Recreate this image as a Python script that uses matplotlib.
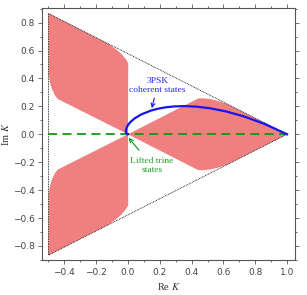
import matplotlib
matplotlib.use("Agg")
import matplotlib.pyplot as plt
import matplotlib.transforms as mtransforms
from matplotlib.ticker import MultipleLocator

# right lobe of the allowed region (upper half);
# the other two lobes are the same shape turned by +-120 degrees
lobe_x = [0.0, 0.44, 0.47, 0.52, 0.57, 0.62, 1.0]
lobe_y = [0.0, 0.256, 0.258, 0.252, 0.238, 0.218, 0.0]

# triangle of all Gram-matrix values
tri_x = [1.0, -0.5, -0.5, 1.0]
tri_y = [0.0, 0.866, -0.866, 0.0]

# lifted trine states: the real segment
trine_x = [-0.5, 1.0]
trine_y = [0.0, 0.0]

# 3PSK coherent states curve
psk_x = [1.0, 0.8575, 0.7297, 0.6162, 0.5162, 0.4288, 0.3529, 0.2876,
         0.2318, 0.1844, 0.1446, 0.0838, 0.0429, 0.0167, 0.0008, -0.0080,
         -0.0130, -0.0127, -0.0095, -0.0052, -0.002, 0.0]
psk_y = [0.0, 0.0745, 0.1277, 0.1638, 0.1863, 0.1982, 0.2019, 0.1994,
         0.1923, 0.1822, 0.1700, 0.1425, 0.1147, 0.0892, 0.0672, 0.0491,
         0.0290, 0.0157, 0.0057, 0.0006, -0.0008, 0.0]

plt.rcParams["mathtext.fontset"] = "stix"
serif = "Liberation Serif"
grey = "#555555"

fig = plt.figure(figsize=(3.07, 2.95), dpi=100)
ax = fig.add_axes([0.137, 0.119, 0.824, 0.854])

# closed outline of one lobe: upper half then mirrored lower half
outline_x = lobe_x + lobe_x[-2::-1]
outline_y = lobe_y + [-v for v in lobe_y[-2::-1]]
for ang in (0, 120, 240):
    tr = mtransforms.Affine2D().rotate_deg(ang) + ax.transData
    ax.fill(outline_x, outline_y, color="#f08080", lw=0, transform=tr, zorder=1)

ax.plot(tri_x, tri_y, color="black", ls=(0, (1, 1)), lw=0.6, zorder=2)
ax.plot(trine_x, trine_y, color="#119911", ls=(0, (5, 3)), lw=1.3, zorder=3)
ax.plot(psk_x, psk_y, color="#1515f0", lw=1.6, zorder=4)

ax.annotate("3PSK\ncoherent states", xy=(0.15, 0.187), xytext=(0.185, 0.35),
            ha="center", va="center", color="#2828f0", fontsize=6.8,
            family=serif, linespacing=1.15,
            arrowprops=dict(arrowstyle="->", color="#1515f0", lw=0.8,
                            shrinkA=1, shrinkB=0))
ax.annotate("Lifted trine\nstates", xy=(0.004, -0.025), xytext=(0.15, -0.225),
            ha="center", va="center", color="#22a022", fontsize=6.8,
            family=serif, linespacing=1.15,
            arrowprops=dict(arrowstyle="->", color="#119911", lw=0.8,
                            shrinkA=4, shrinkB=0))

ax.set_xlim(-0.54, 1.05)
ax.set_ylim(-0.9, 0.905)
ax.xaxis.set_major_locator(MultipleLocator(0.2))
ax.xaxis.set_minor_locator(MultipleLocator(0.1))
ax.yaxis.set_major_locator(MultipleLocator(0.2))
ax.yaxis.set_minor_locator(MultipleLocator(0.1))
ax.tick_params(which="both", direction="out", top=True, right=True,
               colors=grey, labelcolor="#444444", labelsize=6.5, width=0.6,
               pad=2.5)
ax.tick_params(which="major", length=3)
ax.tick_params(which="minor", length=1.5)
for s in ax.spines.values():
    s.set_color(grey)
    s.set_linewidth(0.8)

ax.set_xlabel(r"Re $K$", family=serif, fontsize=7.5, color="#333333", labelpad=3)
ax.set_ylabel(r"Im $K$", family=serif, fontsize=7.5, color="#333333", labelpad=1)

plt.savefig("out.png", dpi=100)
